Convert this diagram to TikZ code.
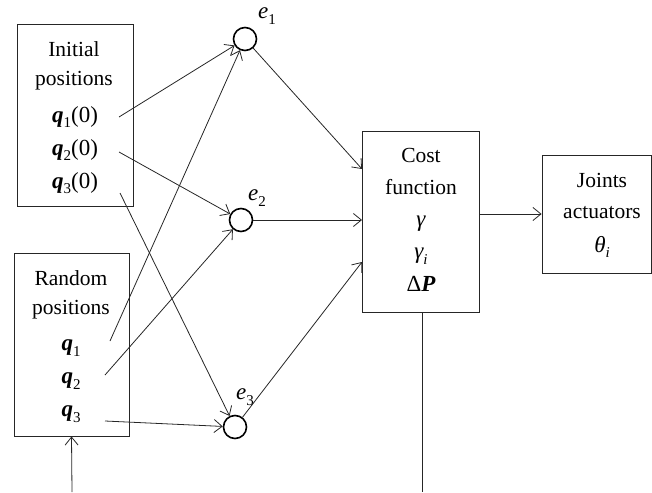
\documentclass[tikz,border=0pt]{standalone}
\usepackage{fontspec}
\setmainfont{Liberation Serif}
\usetikzlibrary{arrows.meta,calc}
\newcommand{\lowsub}[1]{\raisebox{-0.25em}{\fontsize{15}{15}\selectfont #1}}
\newcommand{\bq}{{\bfseries\itshape q}}
\begin{document}
\begin{tikzpicture}[x=1pt,y=-1pt,
  every node/.style={font=\fontsize{21.5}{26}\selectfont, inner sep=0pt},
  mth/.style={font=\fontsize{23}{26}\selectfont},
  blk/.style={draw=black!85, line width=0.9pt, rectangle},
  sumnode/.style={draw=black, line width=1.6pt, circle, minimum size=23pt, fill=white},
  conn/.style={draw=black!85, line width=0.8pt, -{Straight Barb[length=8pt,width=13pt]}},
  plain/.style={draw=black!85, line width=0.8pt}]
\useasboundingbox (0,0) rectangle (652,492);
% boxes
\node[blk, minimum width=116pt, minimum height=182pt] (init) at (75,115) {};
\node[blk, minimum width=115pt, minimum height=183pt] (rand) at (71.5,344.5) {};
\node[blk, minimum width=117pt, minimum height=181pt] (cost) at (420.5,221.5) {};
\node[blk, minimum width=109pt, minimum height=118pt] (joints) at (596.5,214) {};
% texts
\node (tI1) at (74,49) {Initial};
\node (tI2) at (74,81) {positions};
\node[mth] (tI3) at (75,117) {\bq\lowsub{1}(0)};
\node[mth] (tI4) at (75,150) {\bq\lowsub{2}(0)};
\node[mth] (tI5) at (75,183) {\bq\lowsub{3}(0)};
\node (tR1) at (71,278) {Random};
\node (tR2) at (71,310) {positions};
\node[mth] (tR3) at (71,348) {\bq\lowsub{1}};
\node[mth] (tR4) at (71,381) {\bq\lowsub{2}};
\node[mth] (tR5) at (71,414) {\bq\lowsub{3}};
\node (tC1) at (421,155) {Cost};
\node (tC2) at (421,187) {function};
\node[mth] (tC3) at (421,224) {\itshape γ};
\node[mth] (tC4) at (421,256) {\itshape γ\lowsub{\itshape i}};
\node[mth] (tC5) at (421,284) {Δ{\bfseries\itshape P}};
\node (tJ1) at (602,180) {Joints};
\node (tJ2) at (602,213) {actuators};
\node[mth] (tJ3) at (602,247) {\itshape θ\lowsub{\itshape i}};
% summing circles
\node[sumnode] (e1) at (245,39) {};
\node[sumnode] (e2) at (241,220) {};
\node[sumnode] (e3) at (235,427) {};
\node[mth] (l1) at (267,16) {\itshape e\lowsub{\upshape 1}};
\node[mth] (l2) at (257,198) {\itshape e\lowsub{\upshape 2}};
\node[mth] (l3) at (245,397) {\itshape e\lowsub{\upshape 3}};
% start coordinates
\coordinate (sI1) at (119,117);
\coordinate (sI2) at (119,152);
\coordinate (sI3) at (120,193);
\coordinate (sR1) at (110,341);
\coordinate (sR2) at (105,375);
\coordinate (sR3) at (105,421);
\coordinate (c1) at (362,169);
\coordinate (c2) at (362,220);
\coordinate (c3) at (362,262);
\coordinate (bin) at (72,492);
\coordinate (bout) at (422,492);
% connectors
\draw[conn] (sI1) -- (e1);
\draw[conn] (sI2) -- (e2);
\draw[conn] (sI3) -- (e3);
\draw[conn] (sR1) -- (e1);
\draw[conn] (sR2) -- (e2);
\draw[conn] (sR3) -- (e3);
\draw[conn] (e1) -- (c1);
\draw[conn] (e2) -- (c2);
\draw[conn] (e3) -- (c3);
\draw[conn] (cost.east |- joints.west) -- (joints.west);
\draw[conn] (bin) -- (rand.south);
\draw[plain] (cost.south -| bout) -- (bout);
\end{tikzpicture}
\end{document}
